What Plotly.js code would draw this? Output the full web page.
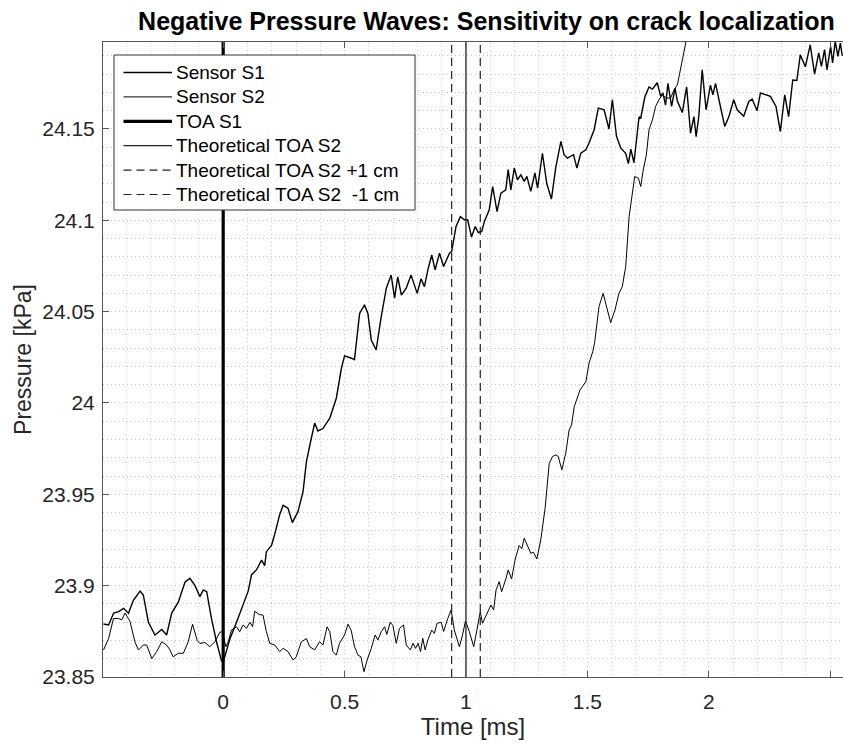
<!DOCTYPE html>
<html>
<head>
<meta charset="utf-8">
<script src="https://cdn.plot.ly/plotly-3.0.1.min.js"></script>
<style>html,body{margin:0;padding:0;background:#fff;}#chart{width:843px;height:744px;}</style>
</head>
<body>
<div id="chart"></div>
<script>
// ---- data ----
const s1Time = [-0.493,-0.472,-0.451,-0.431,-0.410,-0.390,-0.370,-0.342,-0.329,-0.308,-0.281,-0.253,-0.233,-0.212,-0.185,-0.157,-0.137,-0.116,-0.096,-0.082,-0.068,-0.048,-0.027,-0.007,0.000,0.028,0.055,0.082,0.103,0.117,0.137,0.158,0.171,0.178,0.199,0.212,0.233,0.247,0.267,0.285,0.308,0.329,0.343,0.363,0.377,0.390,0.411,0.439,0.466,0.487,0.500,0.528,0.541,0.562,0.582,0.596,0.610,0.630,0.651,0.672,0.692,0.706,0.719,0.734,0.754,0.774,0.799,0.815,0.829,0.843,0.859,0.873,0.891,0.908,0.932,0.941,0.959,0.977,0.994,1.007,1.023,1.038,1.051,1.065,1.076,1.096,1.110,1.128,1.144,1.164,1.174,1.185,1.199,1.212,1.226,1.240,1.251,1.267,1.284,1.295,1.315,1.333,1.352,1.370,1.391,1.404,1.418,1.443,1.457,1.473,1.494,1.507,1.528,1.545,1.569,1.589,1.603,1.620,1.638,1.658,1.669,1.679,1.692,1.713,1.720,1.737,1.754,1.768,1.788,1.802,1.811,1.822,1.832,1.847,1.861,1.871,1.891,1.909,1.925,1.939,1.948,1.959,1.973,1.989,2.007,2.017,2.028,2.048,2.066,2.083,2.103,2.117,2.144,2.165,2.179,2.199,2.213,2.254,2.277,2.295,2.313,2.329,2.346,2.363,2.377,2.398,2.418,2.436,2.453,2.464,2.477,2.487,2.502,2.510,2.521,2.532,2.542,2.550];
const s1Pressure = [23.879,23.8785,23.885,23.8858,23.8876,23.8849,23.892,23.897,23.8949,23.880,23.873,23.876,23.873,23.885,23.891,23.902,23.904,23.900,23.894,23.8977,23.8967,23.882,23.869,23.859,23.858,23.871,23.880,23.889,23.897,23.906,23.9086,23.914,23.911,23.9186,23.922,23.928,23.939,23.944,23.9424,23.9345,23.9405,23.9515,23.968,23.9807,23.989,23.9847,23.986,23.9917,24.0026,24.019,24.0258,24.0245,24.0237,24.049,24.0537,24.049,24.0345,24.029,24.0473,24.0628,24.070,24.0574,24.069,24.059,24.0629,24.070,24.060,24.068,24.0637,24.0729,24.081,24.0729,24.082,24.0747,24.082,24.0829,24.0966,24.102,24.1003,24.1003,24.0908,24.0966,24.0933,24.0939,24.0994,24.1058,24.1185,24.1048,24.1149,24.1167,24.1277,24.1167,24.1286,24.1222,24.1249,24.1213,24.124,24.1158,24.126,24.1176,24.1367,24.120,24.1116,24.129,24.1432,24.1359,24.134,24.1359,24.1286,24.1367,24.1386,24.1423,24.1496,24.1614,24.1605,24.150,24.166,24.146,24.1395,24.1367,24.131,24.139,24.1315,24.1567,24.156,24.1676,24.173,24.1718,24.1753,24.1678,24.1697,24.163,24.175,24.1623,24.1723,24.1651,24.159,24.173,24.1477,24.1568,24.1458,24.1568,24.1824,24.1605,24.174,24.1687,24.175,24.1623,24.1514,24.1568,24.166,24.1605,24.157,24.165,24.1664,24.160,24.1697,24.1678,24.1623,24.1486,24.1687,24.1567,24.1768,24.1765,24.1906,24.184,24.196,24.180,24.1916,24.1842,24.1934,24.1824,24.1952,24.1861,24.198,24.1897,24.197,24.190];

const s2Time = [-0.493,-0.472,-0.452,-0.431,-0.418,-0.404,-0.384,-0.363,-0.349,-0.329,-0.315,-0.294,-0.274,-0.253,-0.233,-0.219,-0.206,-0.185,-0.164,-0.144,-0.126,-0.107,-0.096,-0.075,-0.055,-0.034,-0.014,-0.003,0.011,0.021,0.034,0.055,0.068,0.082,0.096,0.110,0.121,0.130,0.148,0.164,0.178,0.192,0.212,0.233,0.247,0.267,0.288,0.301,0.322,0.343,0.356,0.377,0.397,0.411,0.428,0.439,0.452,0.466,0.479,0.500,0.514,0.527,0.541,0.555,0.567,0.580,0.593,0.610,0.626,0.637,0.651,0.665,0.674,0.688,0.699,0.713,0.726,0.743,0.754,0.771,0.782,0.792,0.803,0.813,0.822,0.832,0.843,0.859,0.870,0.881,0.898,0.908,0.925,0.939,0.952,0.973,0.986,0.998,1.014,1.032,1.045,1.059,1.068,1.086,1.103,1.114,1.124,1.137,1.147,1.165,1.174,1.188,1.202,1.219,1.230,1.240,1.253,1.267,1.278,1.292,1.308,1.326,1.343,1.357,1.370,1.380,1.395,1.411,1.425,1.435,1.446,1.459,1.470,1.480,1.494,1.507,1.522,1.530,1.548,1.565,1.579,1.596,1.614,1.630,1.644,1.658,1.672,1.685,1.695,1.710,1.720,1.729,1.743,1.754,1.768,1.781,1.795,1.809,1.825,1.843,1.857,1.871,1.884,1.905,1.930];
const s2Pressure = [23.8648,23.871,23.882,23.882,23.8813,23.885,23.8805,23.869,23.8648,23.8675,23.8675,23.860,23.8639,23.8693,23.8675,23.8648,23.861,23.863,23.863,23.8693,23.8789,23.870,23.8684,23.8689,23.8666,23.8693,23.8745,23.8748,23.8666,23.8693,23.8757,23.8775,23.8748,23.8785,23.8766,23.880,23.8775,23.886,23.8842,23.8839,23.8748,23.8684,23.8675,23.8639,23.8657,23.8639,23.8593,23.861,23.8693,23.871,23.8666,23.8648,23.8693,23.8675,23.8775,23.8748,23.8639,23.862,23.8684,23.873,23.8789,23.8757,23.8666,23.862,23.8611,23.8529,23.8593,23.8657,23.873,23.8702,23.8748,23.8775,23.8733,23.880,23.8782,23.8684,23.8766,23.8785,23.8675,23.8648,23.8684,23.8657,23.8684,23.8639,23.8712,23.8648,23.8702,23.8757,23.8739,23.8794,23.880,23.8749,23.882,23.8867,23.8757,23.8666,23.873,23.8807,23.8748,23.8666,23.8757,23.8858,23.8794,23.8849,23.8894,23.8867,23.8976,23.9022,23.8967,23.904,23.9086,23.9037,23.914,23.922,23.9202,23.926,23.9215,23.9177,23.9183,23.9146,23.925,23.9424,23.967,23.9707,23.9716,23.9707,23.9634,23.9725,23.9853,23.988,23.998,24.0026,24.0072,24.009,24.0117,24.0218,24.028,24.033,24.0528,24.060,24.0528,24.044,24.051,24.060,24.0637,24.0747,24.102,24.113,24.124,24.1231,24.1185,24.1267,24.1358,24.1496,24.155,24.1623,24.166,24.1687,24.1669,24.1669,24.1714,24.1742,24.1824,24.197,24.215];

const toaS1 = 0;            // ms
const toaS2 = 1.0;          // ms
const toaS2Plus1cm = 0.941; // ms
const toaS2Minus1cm = 1.059;// ms

const seriesNames = ['Sensor S1', 'Sensor S2', 'TOA S1', 'Theoretical TOA S2',
                     'Theoretical TOA S2 +1 cm', 'Theoretical TOA S2  -1 cm'];

const xTickVals = [0, 0.5, 1, 1.5, 2, 2.5];
const xTickText = ['0', '0.5', '1', '1.5', '2', '2.5'];
const yTickVals = [23.85, 23.9, 23.95, 24, 24.05, 24.1, 24.15];
const yTickText = ['23.85', '23.9', '23.95', '24', '24.05', '24.1', '24.15'];

const xRange = [-0.495, 2.553];
const yRange = [23.85, 24.1976];

// ---- chart ----
const FONT = 'Liberation Sans, Arial, sans-serif';
const M = {l: 103, r: 0, t: 42, b: 67};
const W = 843, H = 744;
const PW = W - M.l - M.r, PH = H - M.t - M.b;
const px2x = p => (p - M.l) / PW;          // pixel -> paper x
const px2y = p => (H - M.b - p) / PH;      // pixel -> paper y

const styles = [
  {color: '#000', width: 1.4, dash: 'solid'},
  {color: '#000', width: 1.0, dash: 'solid'},
  {color: '#000', width: 3.2, dash: 'solid'},
  {color: '#222', width: 1.3, dash: 'solid'},
  {color: '#222', width: 1.2, dash: '8px,5px'},
  {color: '#222', width: 1.2, dash: '8px,5px'}
];

function vline(xv, i) {
  return {x: [xv, xv], y: [yRange[0], yRange[1]], mode: 'lines', name: seriesNames[i],
          line: styles[i], hoverinfo: 'skip', showlegend: false};
}
const traces = [
  {x: s1Time, y: s1Pressure, mode: 'lines', name: seriesNames[0], line: styles[0], showlegend: false},
  {x: s2Time, y: s2Pressure, mode: 'lines', name: seriesNames[1], line: styles[1], showlegend: false},
  vline(toaS1, 2),
  vline(toaS2, 3),
  vline(toaS2Plus1cm, 4),
  vline(toaS2Minus1cm, 5)
];

// legend box drawn as shapes + text (matches reference row spacing)
const legBox = {x0: 114, x1: 415, y0: 55, y1: 210};
const legRow0 = 72.5, legRowStep = 24.4, legLineX0 = 123.5, legLineX1 = 172, legTextX = 174.5;
const shapes = [{type: 'rect', xref: 'paper', yref: 'paper',
  x0: px2x(legBox.x0), x1: px2x(legBox.x1), y0: px2y(legBox.y1), y1: px2y(legBox.y0),
  fillcolor: '#fff', line: {color: '#333', width: 1}, layer: 'above'}];
const annotations = [];
seriesNames.forEach((name, i) => {
  const yy = px2y(legRow0 + i * legRowStep);
  shapes.push({type: 'line', xref: 'paper', yref: 'paper', x0: px2x(legLineX0), x1: px2x(legLineX1),
    y0: yy, y1: yy, line: styles[i], layer: 'above'});
  annotations.push({xref: 'paper', yref: 'paper', x: px2x(legTextX), y: yy, xanchor: 'left', yanchor: 'middle',
    text: name, showarrow: false, font: {family: FONT, size: 19, color: '#000'}, borderpad: 0});
});

const minorGrid = {showgrid: true, gridcolor: '#c4c4c4', griddash: '1px,3px', gridwidth: 1, ticks: ''};
const layout = {
  width: W, height: H,
  margin: M,
  paper_bgcolor: '#fff', plot_bgcolor: '#fff',
  font: {family: FONT, color: '#262626'},
  showlegend: false,
  title: {text: '<b>Negative Pressure Waves: Sensitivity on crack localization</b>',
          font: {family: FONT, size: 25, color: '#000'},
          x: 0.577, xref: 'container', xanchor: 'center',
          y: 0.972, yref: 'container', yanchor: 'middle'},
  xaxis: {
    range: xRange, tickvals: xTickVals, ticktext: xTickText,
    showgrid: true, gridcolor: '#c4c4c4', griddash: '1px,3px', gridwidth: 1, zeroline: false,
    showline: true, linecolor: '#555', linewidth: 1, mirror: 'ticks',
    ticks: 'inside', ticklen: 6, tickcolor: '#555', tickwidth: 1,
    tickfont: {size: 21, color: '#262626'}, ticklabelstandoff: 6,
    minor: Object.assign({dtick: 0.1, tick0: 0}, minorGrid),
    title: {text: 'Time [ms]', font: {size: 24, color: '#262626'}, standoff: 5}
  },
  yaxis: {
    range: yRange, tickvals: yTickVals, ticktext: yTickText,
    showgrid: true, gridcolor: '#c4c4c4', griddash: '1px,3px', gridwidth: 1, zeroline: false,
    showline: true, linecolor: '#555', linewidth: 1,
    ticks: 'inside', ticklen: 6, tickcolor: '#555', tickwidth: 1,
    tickfont: {size: 21, color: '#262626'}, ticklabelstandoff: 3,
    minor: Object.assign({dtick: 0.01, tick0: 23.85}, minorGrid),
    title: {text: 'Pressure [kPa]', font: {size: 23, color: '#262626'}, standoff: 4}
  },
  shapes: shapes,
  annotations: annotations
};
Plotly.newPlot('chart', traces, layout, {staticPlot: true, displayModeBar: false});
</script>
</body>
</html>
